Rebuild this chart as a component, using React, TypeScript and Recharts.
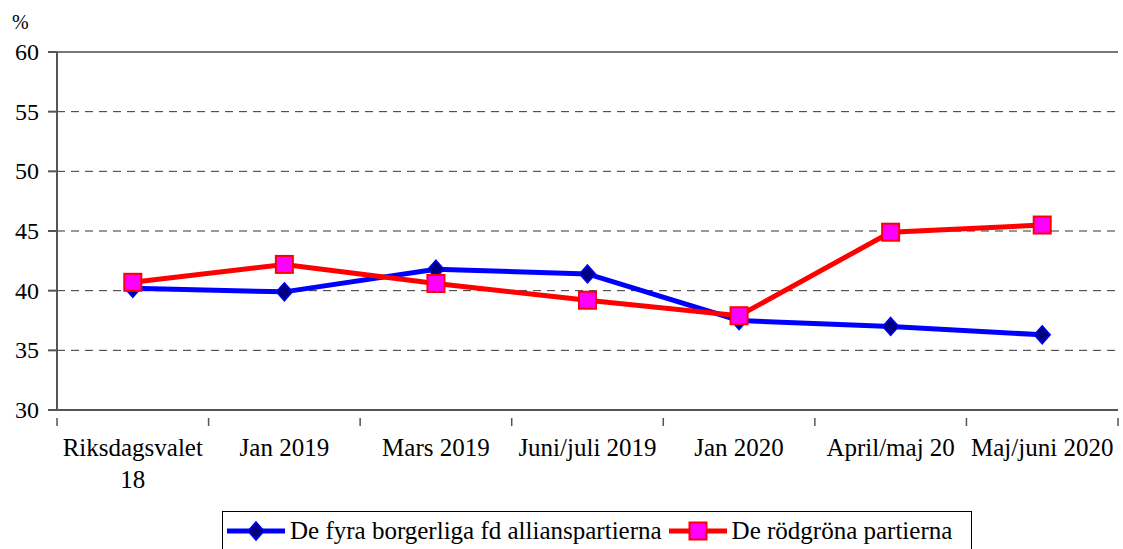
import React from 'react';
import { LineChart, Line, XAxis, YAxis, CartesianGrid, ReferenceLine } from 'recharts';

const categories = ['Riksdagsvalet 18', 'Jan 2019', 'Mars 2019', 'Juni/juli 2019', 'Jan 2020', 'April/maj 20', 'Maj/juni 2020'];
const borgerliga = [40.2, 39.9, 41.8, 41.4, 37.5, 37.0, 36.3];
const rodgrona = [40.7, 42.2, 40.6, 39.2, 37.9, 44.9, 45.5];
const yTicks = [30, 35, 40, 45, 50, 55, 60];

const BLUE_NAME = 'De fyra borgerliga fd allianspartierna';
const RED_NAME = 'De rödgröna partierna';

const data = categories.map((c, i) => ({ name: c, blue: borgerliga[i], red: rodgrona[i] }));

const W = 1123;
const H = 549;
const PLOT_LEFT = 57;
const PLOT_RIGHT = 1118;
const BAND = (PLOT_RIGHT - PLOT_LEFT) / categories.length;
const FONT = '"Liberation Serif", "Times New Roman", serif';

const Diamond = (props: any) => {
  const { cx, cy } = props;
  if (cx == null || cy == null) return null;
  const rx = 8;
  const ry = 9;
  return (
    <polygon
      points={`${cx},${cy - ry} ${cx + rx},${cy} ${cx},${cy + ry} ${cx - rx},${cy}`}
      fill="#000080"
      stroke="#0000ff"
      strokeWidth={1.5}
    />
  );
};

const Square = (props: any) => {
  const { cx, cy } = props;
  if (cx == null || cy == null) return null;
  const s = 8.5;
  return <rect x={cx - s} y={cy - s} width={s * 2} height={s * 2} fill="#ff00ff" stroke="#ff0000" strokeWidth={2} />;
};

const XTick = (props: any) => {
  const { x, y, payload, index } = props;
  const label: string = payload.value;
  const lines = label === 'Riksdagsvalet 18' ? ['Riksdagsvalet', '18'] : [label];
  const left = x - BAND / 2;
  return (
    <g>
      <line x1={left} y1={y} x2={left} y2={y + 8} stroke="#555" strokeWidth={1.5} />
      {index === categories.length - 1 && (
        <line x1={x + BAND / 2} y1={y} x2={x + BAND / 2} y2={y + 8} stroke="#555" strokeWidth={1.5} />
      )}
      {lines.map((l, i) => (
        <text key={i} x={x} y={y + 38 + i * 32} textAnchor="middle" fontSize={25} fontFamily={FONT} fill="#000">
          {l}
        </text>
      ))}
    </g>
  );
};

const YTick = (props: any) => {
  const { x, y, payload } = props;
  return (
    <text x={x} y={y} dy={8} textAnchor="end" fontSize={24} fontFamily={FONT} fill="#000">
      {payload.value}
    </text>
  );
};

export default function App() {
  return (
    <div style={{ position: 'absolute', left: 0, top: 0, width: W, height: H, background: '#fff', fontFamily: FONT }}>
      <LineChart width={W} height={H} data={data} margin={{ top: 52, right: W - PLOT_RIGHT, bottom: 0, left: 0 }}>
        <CartesianGrid horizontal vertical={false} stroke="#333" strokeDasharray="8 6" strokeWidth={1} />
        <ReferenceLine y={60} stroke="#777" strokeWidth={2} />
        <XAxis
          dataKey="name"
          scale="band"
          height={139}
          stroke="#555"
          strokeWidth={2}
          tickLine={false}
          tick={<XTick />}
          interval={0}
        />
        <YAxis
          width={PLOT_LEFT}
          domain={[30, 60]}
          ticks={yTicks}
          tickSize={9}
          tickMargin={9}
          stroke="#555"
          strokeWidth={2}
          tick={<YTick />}
          interval={0}
        />
        <Line
          dataKey="blue"
          name={BLUE_NAME}
          stroke="#0000ff"
          strokeWidth={5}
          dot={<Diamond />}
          activeDot={false}
          isAnimationActive={false}
        />
        <Line
          dataKey="red"
          name={RED_NAME}
          stroke="#ff0000"
          strokeWidth={5}
          dot={<Square />}
          activeDot={false}
          isAnimationActive={false}
        />
      </LineChart>
      <div style={{ position: 'absolute', left: 12, top: 10, fontSize: 20, lineHeight: '24px', fontFamily: FONT }}>%</div>
      <div
        style={{
          position: 'absolute',
          left: 222,
          top: 511,
          width: 750,
          height: 44,
          border: '1px solid #000',
          boxSizing: 'border-box',
          display: 'flex',
          alignItems: 'center',
          fontSize: 25,
          fontFamily: FONT,
          whiteSpace: 'nowrap',
          paddingBottom: 4,
        }}
      >
        <svg width={60} height={22} style={{ marginLeft: 3, marginRight: 4 }}>
          <line x1={1} y1={11} x2={59} y2={11} stroke="#0000ff" strokeWidth={5} />
          <Diamond cx={30} cy={11} />
        </svg>
        <span>{BLUE_NAME}</span>
        <svg width={60} height={22} style={{ marginLeft: 6, marginRight: 4 }}>
          <line x1={1} y1={11} x2={59} y2={11} stroke="#ff0000" strokeWidth={5} />
          <Square cx={30} cy={11} />
        </svg>
        <span>{RED_NAME}</span>
      </div>
    </div>
  );
}
